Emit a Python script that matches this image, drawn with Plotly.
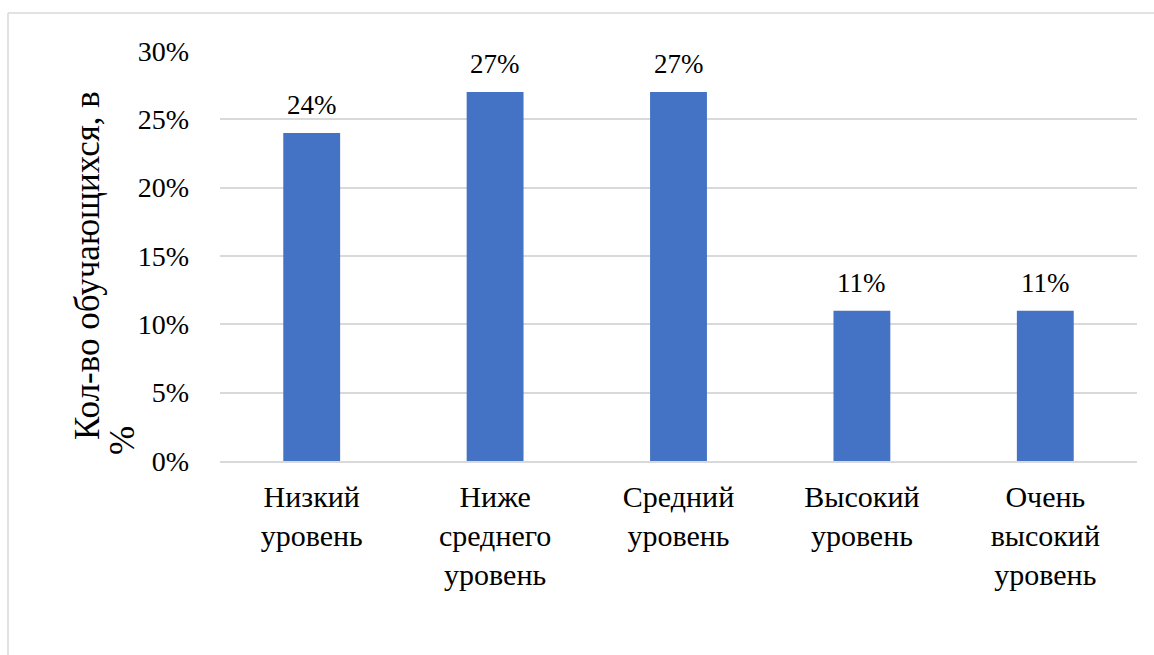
import plotly.graph_objects as go

categories = ["Низкий<br>уровень", "Ниже<br>среднего<br>уровень", "Средний<br>уровень",
              "Высокий<br>уровень", "Очень<br>высокий<br>уровень"]
shares = [0.24, 0.27, 0.27, 0.11, 0.11]
y_ticks = [0, 0.05, 0.10, 0.15, 0.20, 0.25, 0.30]
y_tick_labels = ["0%", "5%", "10%", "15%", "20%", "25%", "30%"]
title_lines = ["Кол-во обучающихся, в", "%"]

W, H = 1154, 655
L, R, T, B = 220, 17, 51, 194
pw, ph = W - L - R, H - T - B

FONT = "Liberation Serif, Times New Roman, serif"
BLACK = "#000000"
GRID = "#d9d9d9"


def px_x(x):
    return (x - L) / pw


def px_y(y):
    return (H - B - y) / ph


fig = go.Figure(go.Bar(
    x=categories, y=shares,
    marker=dict(color="#4472C4", line=dict(width=0)),
    hoverinfo="x+y",
))

# value labels above the bars
for cat, val in zip(categories, shares):
    fig.add_annotation(
        x=cat, y=val, xref="x", yref="y",
        text=f"{val:.0%}", showarrow=False,
        xanchor="center", yanchor="bottom", yshift=11,
        font=dict(family=FONT, size=27, color=BLACK),
    )

fig.update_layout(
    width=W, height=H,
    margin=dict(l=L, r=R, t=T, b=B),
    paper_bgcolor="white", plot_bgcolor="white",
    bargap=0.69, showlegend=False,
    font=dict(family=FONT, color=BLACK),
    xaxis=dict(tickfont=dict(family=FONT, size=30, color=BLACK), showgrid=False,
               showline=True, linecolor=GRID, linewidth=2, ticks="",
               ticklabelstandoff=8),
    yaxis=dict(range=[0, 0.3], tickvals=y_ticks, ticktext=y_tick_labels,
               tickfont=dict(family=FONT, size=28, color=BLACK), showgrid=True,
               gridcolor=GRID, gridwidth=1.5, zeroline=False, showline=False,
               ticks="", ticklabelstandoff=30),
)

# rotated axis title, one annotation per line
fig.add_annotation(
    text=title_lines[0], textangle=-90,
    xref="paper", yref="paper", x=px_x(87), y=px_y(266),
    xanchor="center", yanchor="middle", showarrow=False,
    font=dict(family=FONT, size=35, color=BLACK),
)
fig.add_annotation(
    text=title_lines[1], textangle=-90,
    xref="paper", yref="paper", x=px_x(122), y=px_y(441),
    xanchor="center", yanchor="middle", showarrow=False,
    font=dict(family=FONT, size=35, color=BLACK),
)

# chart frame (top and left edges)
fig.add_shape(type="line", xref="paper", yref="paper",
              x0=px_x(8), x1=px_x(W + 5), y0=px_y(13), y1=px_y(13),
              line=dict(color=GRID, width=1.5))
fig.add_shape(type="line", xref="paper", yref="paper",
              x0=px_x(8), x1=px_x(8), y0=px_y(13), y1=px_y(H + 5),
              line=dict(color=GRID, width=1.5))

fig.write_html("out.html")
